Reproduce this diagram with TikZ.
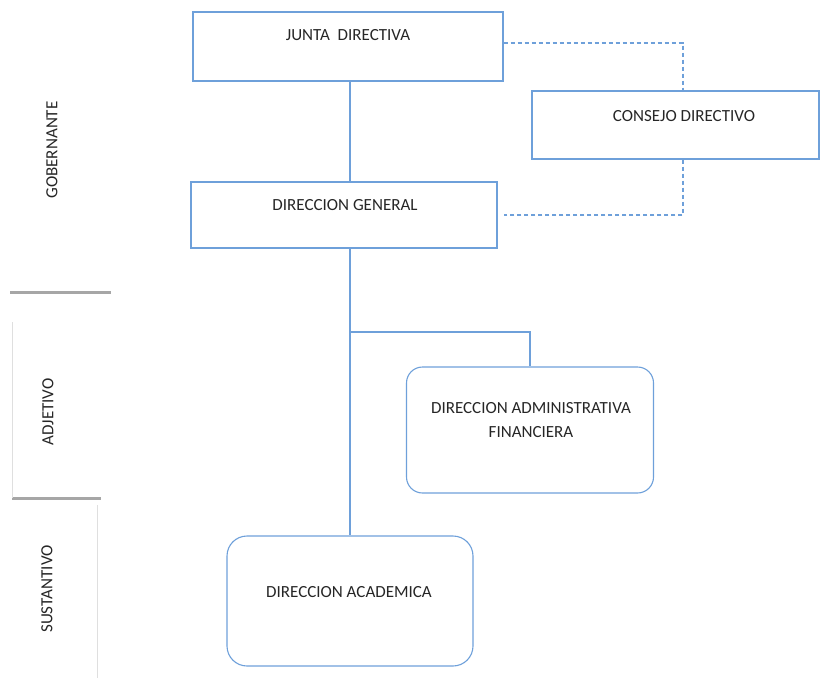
\documentclass[tikz,border=0pt]{standalone}
\usepackage{fontspec}
\setmainfont{Carlito}
\begin{document}
\begin{tikzpicture}[x=1pt,y=-1pt,
  box/.style={draw=boxblue, line width=1.1pt, inner sep=0pt},
  rbox/.style={box, rounded corners=16pt},
  txt/.style={font=\fontsize{17}{24}\selectfont, text=black!85, align=center, inner sep=0pt},
  conn/.style={draw=boxblue, line width=1.1pt},
  dsh/.style={draw=boxblue, line width=1.4pt, dash pattern=on 4.5pt off 2.5pt},
  sep/.style={draw=gray!70, line width=3pt},
  thin/.style={draw=gray!25, line width=1pt}]
\definecolor{boxblue}{RGB}{110,160,218}
\useasboundingbox (0,0) rectangle (820,678);
% boxes
\node[box, minimum width=310pt, minimum height=69pt] (jd) at (348,46.5) {};
\node[box, minimum width=306pt, minimum height=66pt] (dg) at (344,215) {};
\node[box, minimum width=287pt, minimum height=68pt] (cd) at (675.5,125) {};
\node[rbox, minimum width=247pt, minimum height=126pt] (daf) at (530,430) {};
\node[rbox, rounded corners=20pt, minimum width=246pt, minimum height=130pt] (da) at (350,601) {};
% texts
\node[txt] (tjd) at (348,35) {JUNTA\ \ DIRECTIVA};
\node[txt] (tdg) at (345,205) {DIRECCION GENERAL};
\node[txt] (tcd) at (684,116) {CONSEJO DIRECTIVO};
\node[txt] (tdaf) at (531,420) {DIRECCION ADMINISTRATIVA\\FINANCIERA};
\node[txt] (tda) at (349,592) {DIRECCION ACADEMICA};
% connectors
\coordinate (dx) at (683,0);
\coordinate (br) at (350,332);
\draw[conn] (jd.south -| da.north) -- (dg.north -| da.north);
\draw[conn] (dg.south -| da.north) -- (da.north);
\draw[conn] (br) -| (daf.north);
\draw[dsh] ([yshift=3.5pt]jd.east) -| (cd.north -| dx);
\draw[dsh] (cd.south -| dx) |- ([xshift=6pt]dg.east);
% left column
\node[txt, rotate=90] (gob) at (52,150) {GOBERNANTE};
\node[txt, rotate=90] (adj) at (48,412) {ADJETIVO};
\node[txt, rotate=90] (sus) at (47,589) {SUSTANTIVO};
\coordinate (s1a) at (10,292); \coordinate (s1b) at (111,292);
\coordinate (s2a) at (12,498); \coordinate (s2b) at (101,498);
\draw[sep] (s1a) -- (s1b);
\draw[sep] (s2a) -- (s2b);
\draw[thin] (12,322) -- (s2a);
\draw[thin] (97,505) -- (97,678);
\end{tikzpicture}
\end{document}
